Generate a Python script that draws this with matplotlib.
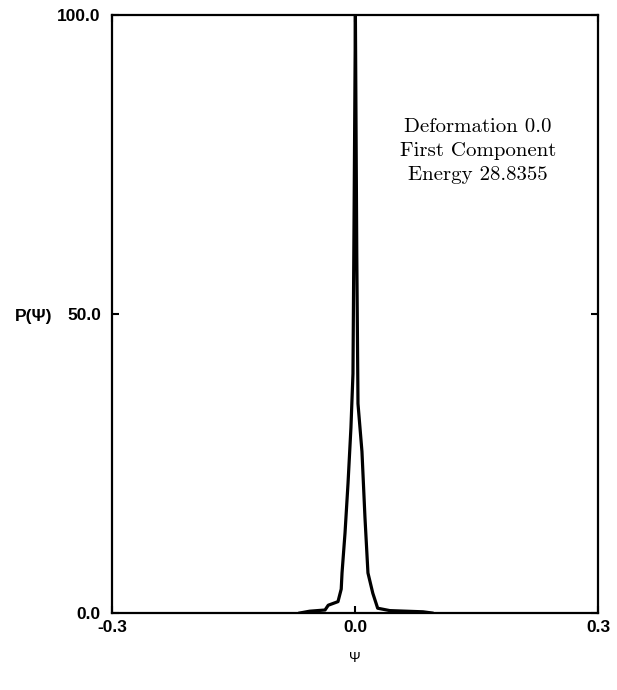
import matplotlib.pyplot as plt

# values
psi = [-0.068, -0.056, -0.037, -0.033, -0.021, -0.017, -0.016, -0.0123,
       -0.0086, -0.005, -0.0025, -0.0012, 0.0005, 0.0022, 0.0037, 0.0086,
       0.0123, 0.016, 0.022, 0.028, 0.043, 0.084, 0.095]
prob = [0.0, 0.3, 0.5, 1.3, 1.9, 4.0, 6.7, 13.4,
        21.7, 31.0, 40.0, 65.0, 100.0, 60.0, 35.0, 27.0,
        16.0, 6.7, 3.3, 0.8, 0.4, 0.2, 0.0]

xticks = [-0.3, 0.0, 0.3]
yticks = [0.0, 50.0, 100.0]
info = ["Deformation 0.0", "First Component", "Energy 28.8355"]

fig = plt.figure(figsize=(6.17, 6.90), dpi=100)
ax = fig.add_axes([0.1815, 0.1116, 0.7877, 0.8667])

ax.plot(psi, prob, color="black", lw=2.3, solid_joinstyle="round")

ax.set_xlim(-0.3, 0.3)
ax.set_ylim(0, 100)
ax.set_xticks(xticks)
ax.set_yticks(yticks)
ax.set_xticklabels([f"{v:.1f}" for v in xticks], fontfamily="Liberation Sans",
                   fontweight="bold", fontsize=12.5)
ax.set_yticklabels([f"{v:.1f}" for v in yticks], fontfamily="Liberation Sans",
                   fontweight="bold", fontsize=12.5)
ax.tick_params(direction="in", length=5, width=1.5, top=True, right=True)
ax.tick_params(axis="y", pad=8)
ax.tick_params(axis="x", pad=5)
for s in ax.spines.values():
    s.set_linewidth(1.6)

ax.text(0.753, 0.827, "\n".join(info), transform=ax.transAxes, ha="center",
        va="top", fontfamily="cmr10", fontsize=15, linespacing=1.42)

fig.text(0.024, 0.5415, "P(Ψ)", fontfamily="Liberation Sans", fontsize=12.5,
         fontweight="bold", va="center")
fig.text(0.575, 0.047, "Ψ", fontfamily="Liberation Sans", fontsize=10,
         ha="center", va="center")

fig.savefig("out.png", dpi=100)
